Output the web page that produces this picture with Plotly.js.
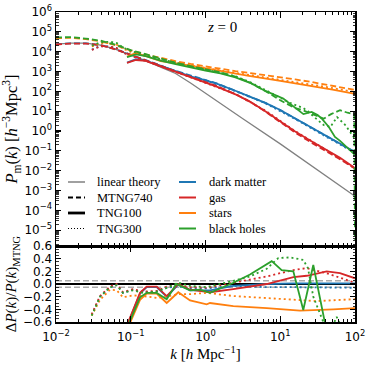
<!DOCTYPE html>
<html><head><meta charset="utf-8">
<script src="https://cdn.plot.ly/plotly-3.0.1.min.js"></script>
<style>html,body{margin:0;padding:0;background:#fff}#chart{width:374px;height:368px}</style>
</head><body><div id="chart"></div>
<script>
// ---------- DATA (log10 k and log10 P) ----------
const linLogK = [-2, -1.8, -1.6, -1.4, -1.2, -1.0, -0.8, -0.6, -0.4, -0.2, 0, 0.5, 1.0, 1.5, 2.0];
const linLogP = [4.38, 4.43, 4.43, 4.33, 4.12, 3.85, 3.55, 3.22, 2.9, 2.42, 1.9, 0.62, -0.65, -1.95, -3.29];

// MTNG740 (dashed)
const mtngLogK = [-2, -1.8, -1.6, -1.4, -1.2, -1.0, -0.8, -0.6, -0.4, -0.2, 0, 0.15, 0.4, 0.6, 0.8, 1.0, 1.2, 1.4, 1.6, 1.8, 2.0];
const dmMTNG   = [4.37, 4.42, 4.42, 4.33, 4.12, 3.86, 3.58, 3.30, 3.03, 2.78, 2.57, 2.40, 2.03, 1.73, 1.42, 1.05, 0.62, 0.18, -0.24, -0.65, -1.07];
const gasMTNG  = [4.36, 4.41, 4.41, 4.32, 4.11, 3.85, 3.57, 3.29, 3.00, 2.72, 2.46, 2.27, 1.86, 1.47, 0.98, 0.45, -0.08, -0.55, -0.98, -1.42, -1.90];
const starLogK = [-2, -1.8, -1.6, -1.4, -1.2, -1.0, -0.8, -0.6, -0.4, -0.2, 0, 0.2, 0.4, 0.6, 0.8, 1.0, 1.2, 1.4, 1.6, 1.8, 2.0];
const starMTNG = [4.68, 4.70, 4.63, 4.52, 4.32, 4.06, 3.86, 3.68, 3.52, 3.38, 3.25, 3.13, 3.02, 2.92, 2.82, 2.72, 2.60, 2.48, 2.35, 2.21, 2.07];
const bhLogK   = [-2, -1.8, -1.6, -1.4, -1.2, -1.0, -0.8, -0.6, -0.4, -0.2, 0, 0.2, 0.4, 0.6, 0.8, 1.0, 1.2, 1.3, 1.4, 1.5, 1.58, 1.68, 1.8, 1.9, 1.99, 2.0];
const bhMTNG   = [4.72, 4.73, 4.66, 4.55, 4.35, 4.08, 3.87, 3.64, 3.44, 3.27, 3.12, 2.96, 2.74, 2.43, 2.02, 1.55, 1.15, 1.05, 0.90, 0.75, 0.62, 0.85, 1.05, 0.92, 0.85, -5.5];

// TNG100 (solid)
const t100LogK = [-1.05, -0.93, -0.8, -0.6, -0.4, -0.2, 0, 0.15, 0.4, 0.6, 0.8, 1.0, 1.2, 1.4, 1.6, 1.8, 2.0];
const dmT100   = [3.45, 3.62, 3.55, 3.28, 3.02, 2.75, 2.55, 2.39, 2.03, 1.73, 1.42, 1.06, 0.63, 0.19, -0.24, -0.64, -1.06];
const gasT100  = [3.44, 3.58, 3.54, 3.27, 2.99, 2.69, 2.43, 2.24, 1.85, 1.47, 1.00, 0.50, -0.03, -0.48, -0.90, -1.35, -1.87];
const starT100LogK = [-1.05, -0.93, -0.8, -0.6, -0.34, 0.1, 0.58, 1.0, 1.44, 1.7, 2.0];
const starT100 = [3.75, 3.93, 3.78, 3.52, 3.38, 3.08, 2.78, 2.53, 2.27, 2.09, 1.87];
const bhT100LogK = [-1.05, -0.93, -0.8, -0.6, -0.4, -0.2, 0, 0.2, 0.4, 0.595, 0.8, 1.04, 1.15, 1.264, 1.31, 1.42, 1.5, 1.554, 1.65, 1.732, 1.8, 1.9, 2.0];
const bhT100   = [3.72, 3.86, 3.78, 3.55, 3.37, 3.2, 3.05, 2.9, 2.7, 2.43, 2.02, 1.64, 1.3, 0.99, 0.85, 0.96, 0.8, 0.63, 0.2, -0.3, -0.5, -0.85, -1.2];

// TNG300 (dotted)
const t300LogK = [-1.52, -1.41, -1.28, -1.19, -1.1, -1.0, -0.8, -0.6, -0.4, -0.2, 0, 0.4, 0.8, 1.2, 1.6, 2.0];
const dmT300   = [4.10, 4.28, 4.26, 4.19, 3.95, 3.82, 3.55, 3.27, 3.01, 2.76, 2.55, 2.01, 1.40, 0.60, -0.26, -1.10];
const gasT300  = [4.09, 4.27, 4.25, 4.18, 3.94, 3.81, 3.53, 3.26, 2.98, 2.70, 2.44, 1.87, 1.03, -0.01, -0.92, -1.89];
const starT300 = [4.26, 4.42, 4.43, 4.36, 4.14, 3.99, 3.77, 3.58, 3.44, 3.30, 3.18, 2.93, 2.70, 2.48, 2.23, 1.96];
const bhT300LogK = [-1.52, -1.41, -1.28, -1.19, -1.1, -1.0, -0.8, -0.6, -0.4, -0.2, 0, 0.4, 0.6, 0.8, 0.97, 1.13, 1.31, 1.37, 1.44, 1.58, 1.67, 1.76, 1.87, 2.0];
const bhT300   = [4.30, 4.47, 4.50, 4.44, 4.20, 4.04, 3.82, 3.62, 3.44, 3.25, 3.10, 2.76, 2.46, 2.08, 1.75, 1.42, 1.15, 1.0, 0.75, 0.3, 0.2, 0.7, 0.3, -0.4];

// Ratio panel: Delta P / P_MTNG
const r100LogK   = [-1.07, -0.876, -0.787, -0.653, -0.519, -0.364, -0.207, 0.06, 0.372, 0.819, 1.175, 1.354, 1.621, 1.799, 2.0];
const dmR100     = [-0.72, -0.15, -0.05, -0.05, -0.20, -0.01, -0.10, -0.10, -0.03, 0.0, 0.01, 0.01, 0.01, 0.01, 0.01];
const gasR100    = [-0.71, -0.14, -0.04, -0.04, -0.19, 0.0, -0.09, -0.13, -0.08, 0.0, 0.11, 0.13, 0.20, 0.17, 0.09];
const starR100LogK = [-1.07, -0.876, -0.787, -0.653, -0.519, -0.364, -0.207, 0.016, 0.06, 0.372, 0.819, 1.264, 1.71, 2.0];
const starR100   = [-0.78, -0.25, -0.15, -0.15, -0.30, -0.13, -0.26, -0.32, -0.30, -0.35, -0.38, -0.42, -0.40, -0.38];
const bhR100LogK = [-1.07, -0.876, -0.787, -0.653, -0.519, -0.39, -0.207, -0.074, 0.06, 0.372, 0.595, 0.886, 1.019, 1.175, 1.308, 1.442, 1.599, 1.75, 2.0];
const bhR100     = [-0.75, -0.21, -0.14, -0.14, -0.24, 0.0, -0.10, -0.09, -0.14, 0.02, 0.15, 0.36, 0.22, 0.20, -0.41, 0.30, -0.62, -1.3, -2.0];

const r300LogK   = [-1.523, -1.411, -1.278, -1.188, -1.104, -0.970, -0.836, -0.653, -0.519, -0.364, -0.207, 0.016, 0.372, 0.819, 1.175, 1.354, 1.621, 2.0];
const dmR300     = [-0.49, -0.20, -0.05, -0.01, -0.14, -0.09, -0.13, -0.12, -0.06, -0.04, -0.07, -0.07, -0.03, -0.05, -0.05, -0.05, -0.06, -0.06];
const gasR300    = [-0.48, -0.19, -0.04, 0.0, -0.13, -0.08, -0.12, -0.11, -0.04, -0.02, -0.05, -0.06, 0.02, 0.12, 0.22, 0.25, 0.17, 0.02];
const starR300LogK = [-1.523, -1.411, -1.278, -1.188, -1.104, -0.970, -0.836, -0.653, -0.519, -0.364, -0.207, 0.016, 0.372, 1.041, 1.488, 2.0];
const starR300   = [-0.50, -0.25, -0.09, -0.10, -0.21, -0.18, -0.19, -0.22, -0.20, -0.16, -0.16, -0.14, -0.19, -0.24, -0.27, -0.24];
const bhR300LogK = [-1.523, -1.411, -1.278, -1.188, -1.104, -0.970, -0.836, -0.653, -0.519, -0.364, -0.207, 0.016, 0.372, 0.595, 0.819, 0.974, 1.13, 1.308, 1.371, 1.442, 1.576, 1.666, 1.755, 1.866, 2.0];
const bhR300     = [-0.50, -0.20, -0.05, -0.02, -0.14, -0.10, -0.14, -0.12, -0.06, 0.02, -0.03, -0.05, 0.05, 0.12, 0.24, 0.41, 0.42, 0.38, 0.25, -0.20, -0.60, -0.75, -0.52, -0.80, -1.40];

const refLevels = [0, 0.05, -0.05];

// Ticks / labels
const xTickVals = [0.01, 0.1, 1, 10, 100];
const xTickText = ['10<sup>−2</sup>', '10<sup>−1</sup>', '10<sup>0</sup>', '10<sup>1</sup>', '10<sup>2</sup>'];
const yExp = [-5, -4, -3, -2, -1, 0, 1, 2, 3, 4, 5, 6];
const yTickText = yExp.map(e => '10<sup>' + (e < 0 ? '−' + (-e) : e) + '</sup>');
const y2TickVals = [-0.6, -0.4, -0.2, 0, 0.2, 0.4, 0.6];
const y2TickText = ['−0.6', '−0.4', '−0.2', '0.0', '0.2', '0.4', '0.6'];
const legendSims = ['linear theory', 'MTNG740', 'TNG100', 'TNG300'];
const legendComps = ['dark matter', 'gas', 'stars', 'black holes'];

// ---------- STYLE ----------
const C = {dm: '#1f77b4', gas: '#d62728', star: '#ff7f0e', bh: '#2ca02c', lin: '#808080'};
const DASH = '6px,3px', DOT = '2px,3px';
const LW = 1.8;
const P10 = v => Math.pow(10, v);

function mkTop(lk, lp, color, dash, w) {
  return {x: lk.map(P10), y: lp.map(P10), xaxis: 'x', yaxis: 'y', type: 'scatter', mode: 'lines',
          line: {color: color, width: w || LW, dash: dash}, showlegend: false, hoverinfo: 'skip'};
}
function mkBot(lk, v, color, dash, w) {
  return {x: lk.map(P10), y: v, xaxis: 'x2', yaxis: 'y2', type: 'scatter', mode: 'lines',
          line: {color: color, width: w || LW, dash: dash}, showlegend: false, hoverinfo: 'skip'};
}

const traces = [
  mkTop(linLogK, linLogP, C.lin, 'solid', 1.3),
  mkTop(mtngLogK, dmMTNG, C.dm, DASH), mkTop(t100LogK, dmT100, C.dm, 'solid'), mkTop(t300LogK, dmT300, C.dm, DOT),
  mkTop(mtngLogK, gasMTNG, C.gas, DASH), mkTop(t100LogK, gasT100, C.gas, 'solid'), mkTop(t300LogK, gasT300, C.gas, DOT),
  mkTop(starLogK, starMTNG, C.star, DASH), mkTop(starT100LogK, starT100, C.star, 'solid'), mkTop(t300LogK, starT300, C.star, DOT),
  mkTop(bhLogK, bhMTNG, C.bh, DASH), mkTop(bhT100LogK, bhT100, C.bh, 'solid'), mkTop(bhT300LogK, bhT300, C.bh, DOT),
  mkBot(r100LogK, dmR100, C.dm, 'solid'), mkBot(r300LogK, dmR300, C.dm, DOT),
  mkBot(r100LogK, gasR100, C.gas, 'solid'), mkBot(r300LogK, gasR300, C.gas, DOT),
  mkBot(starR100LogK, starR100, C.star, 'solid'), mkBot(starR300LogK, starR300, C.star, DOT),
  mkBot(bhR100LogK, bhR100, C.bh, 'solid'), mkBot(bhR300LogK, bhR300, C.bh, DOT)
];

// geometry helpers (pixel -> paper)
const PL = 56, PR = 355, PT = 12, PB = 322;
const px = v => (v - PL) / (PR - PL);
const py = v => (PB - v) / (PB - PT);
const split = (PB - 246) / (PB - PT);

const minorX = [], minorY = [];
for (let e = -2; e < 2; e++) for (let m = 2; m <= 9; m++) minorX.push(m * Math.pow(10, e));
for (let e = -6; e < 6; e++) for (let m = 2; m <= 9; m++) minorY.push(m * Math.pow(10, e));

const tickFont = {family: 'DejaVu Sans', size: 12, color: '#000'};
const serif = 'Liberation Serif, DejaVu Serif, serif';
const axBase = {showline: true, linecolor: '#000', linewidth: 1.5, mirror: 'ticks', ticks: 'inside',
                tickcolor: '#000', tickwidth: 1.2, showgrid: false, zeroline: false, tickfont: tickFont};

const shapes = refLevels.map((v, i) => ({type: 'line', xref: 'x2 domain', yref: 'y2', x0: 0, x1: 1, y0: v, y1: v,
  layer: 'below', line: i === 0 ? {color: '#000', width: 2} : {color: '#808080', width: 1, dash: DASH}}));
const annotations = [];
const simStyles = [{color: C.lin, width: 1.5, dash: 'solid'}, {color: '#000', width: 2, dash: '5px,3px'},
                   {color: '#000', width: 2.8, dash: 'solid'}, {color: '#000', width: 1, dash: '1px,2px'}];
const compColors = [C.dm, C.gas, C.star, C.bh];
const rowY = [182, 197.5, 213, 228.5];
legendSims.forEach((t, i) => {
  shapes.push({type: 'line', xref: 'paper', yref: 'paper', x0: px(68), x1: px(85), y0: py(rowY[i]), y1: py(rowY[i]), line: simStyles[i]});
  annotations.push({xref: 'paper', yref: 'paper', x: px(95), y: py(rowY[i]), xanchor: 'left', yanchor: 'middle',
    text: t, showarrow: false, font: {family: serif, size: 12.5, color: '#000'}});
});
legendComps.forEach((t, i) => {
  shapes.push({type: 'line', xref: 'paper', yref: 'paper', x0: px(179), x1: px(196), y0: py(rowY[i]), y1: py(rowY[i]), line: {color: compColors[i], width: 2}});
  annotations.push({xref: 'paper', yref: 'paper', x: px(207), y: py(rowY[i]), xanchor: 'left', yanchor: 'middle',
    text: t, showarrow: false, font: {family: serif, size: 12.5, color: '#000'}});
});
annotations.push({xref: 'paper', yref: 'paper', x: px(222), y: py(27), xanchor: 'center', yanchor: 'middle',
  text: '<i>z</i> = 0', showarrow: false, font: {family: serif, size: 15, color: '#000'}});

const layout = {
  width: 374, height: 368, margin: {l: PL, r: 374 - PR, t: PT, b: 368 - PB},
  paper_bgcolor: '#fff', plot_bgcolor: '#fff', showlegend: false,
  xaxis: Object.assign({}, axBase, {type: 'log', range: [-2, 2], anchor: 'y', domain: [0, 1], tickvals: xTickVals,
    showticklabels: false, ticklen: 6, minor: {tickvals: minorX, ticks: 'inside', ticklen: 3, tickcolor: '#000', tickwidth: 1, showgrid: false}}),
  xaxis2: Object.assign({}, axBase, {type: 'log', range: [-2, 2], anchor: 'y2', domain: [0, 1], tickvals: xTickVals, ticktext: xTickText,
    ticklen: 6, ticklabelstandoff: 3, minor: {tickvals: minorX, ticks: 'inside', ticklen: 3, tickcolor: '#000', tickwidth: 1, showgrid: false},
    title: {text: '<i>k</i> [<i>h</i> Mpc<sup>−1</sup>]', font: {family: serif, size: 15, color: '#000'}, standoff: 4}}),
  yaxis: Object.assign({}, axBase, {type: 'log', range: [-5.8, 6], anchor: 'x', domain: [split, 1],
    tickvals: yExp.map(P10), ticktext: yTickText, ticklen: 5,
    minor: {tickvals: minorY, ticks: 'inside', ticklen: 2.5, tickcolor: '#000', tickwidth: 0.8, showgrid: false},
    title: {text: '<i>P</i><sub>m</sub>(<i>k</i>) [<i>h</i><sup>−3</sup>Mpc<sup>3</sup>]', font: {family: serif, size: 16.5, color: '#000'}, standoff: 2}}),
  yaxis2: Object.assign({}, axBase, {range: [-0.6, 0.6], anchor: 'x2', domain: [0, split],
    tickvals: y2TickVals, ticktext: y2TickText, ticklen: 5,
    minor: {dtick: 0.05, tick0: 0, ticks: 'inside', ticklen: 2.5, tickcolor: '#000', tickwidth: 0.8, showgrid: false},
    title: {text: 'Δ<i>P</i>(<i>k</i>)/<i>P</i>(<i>k</i>)<sub>MTNG</sub>', font: {family: serif, size: 15, color: '#000'}, standoff: 2}}),
  shapes: shapes, annotations: annotations
};

Plotly.newPlot('chart', traces, layout, {staticPlot: true, displayModeBar: false});
</script></body></html>
